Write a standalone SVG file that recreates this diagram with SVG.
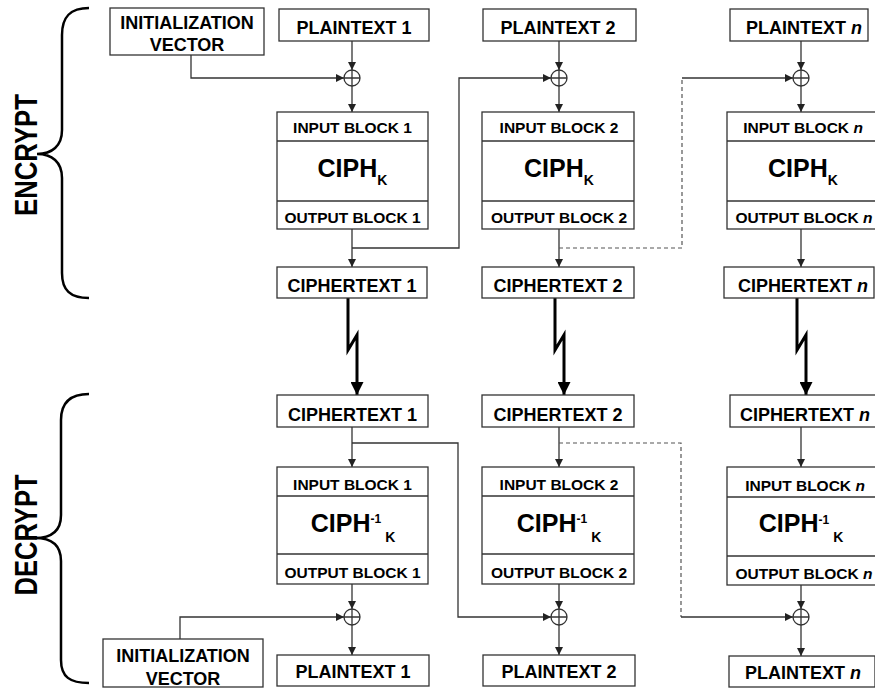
<svg xmlns="http://www.w3.org/2000/svg" width="875" height="690" viewBox="0 0 875 690">
<defs>
<style>
.box{fill:#fff;stroke:#333;stroke-width:1.3}
.div{stroke:#333;stroke-width:1.3}
.ln{fill:none;stroke:#333;stroke-width:1.3}
.ds{fill:none;stroke:#555;stroke-width:1.2;stroke-dasharray:4 3}
.thick{fill:none;stroke:#000;stroke-width:3}
.brace{fill:none;stroke:#000;stroke-width:2.5}
.xor{fill:#fff;stroke:#333;stroke-width:1.3}
.t{font-family:"Liberation Sans",Arial,sans-serif;font-weight:bold;fill:#000;text-anchor:middle}
.t18{font-size:18px}
.t15{font-size:15.5px}
.t24{font-size:25px}
.big{font-size:31px}
.i{font-style:italic}
</style>
<marker id="ar" viewBox="0 0 10 10" refX="10" refY="5" markerWidth="10" markerHeight="8" orient="auto" markerUnits="userSpaceOnUse"><path d="M0,0 L10,5 L0,10 z" fill="#222"/></marker>
<marker id="arb" viewBox="0 0 10 10" refX="10" refY="5" markerWidth="14" markerHeight="13" orient="auto" markerUnits="userSpaceOnUse"><path d="M0,0 L10,5 L0,10 z" fill="#000"/></marker>
<g id="xsym"><circle class="xor" cx="0" cy="0" r="8"/><path class="ln" d="M-8,0 H8 M0,-8 V8"/></g>
</defs>
<rect width="875" height="690" fill="#fff"/>

<g id="connectors">
<!-- encrypt -->
<path class="ln" d="M191,55 V78 H344" marker-end="url(#ar)"/>
<path class="ln" d="M352,41 V70" marker-end="url(#ar)"/>
<path class="ln" d="M352,86 V112" marker-end="url(#ar)"/>
<path class="ln" d="M352,229 V267" marker-end="url(#ar)"/>
<path class="ln" d="M352,248 H459 V78 H551" marker-end="url(#ar)"/>
<path class="ln" d="M559,41 V70" marker-end="url(#ar)"/>
<path class="ln" d="M559,86 V112" marker-end="url(#ar)"/>
<path class="ln" d="M559,229 V267" marker-end="url(#ar)"/>
<path class="ds" d="M559,248 H682 V78"/>
<path class="ln" d="M682,78 H793" marker-end="url(#ar)"/>
<path class="ln" d="M801,41 V70" marker-end="url(#ar)"/>
<path class="ln" d="M801,86 V112" marker-end="url(#ar)"/>
<path class="ln" d="M801,229 V267" marker-end="url(#ar)"/>
<!-- transmission -->
<path class="thick" d="M348,298 V350 L357,335 V395" marker-end="url(#arb)"/>
<path class="thick" d="M555,298 V350 L564,335 V395" marker-end="url(#arb)"/>
<path class="thick" d="M797,298 V350 L806,335 V395" marker-end="url(#arb)"/>
<!-- decrypt -->
<path class="ln" d="M352,427 V467" marker-end="url(#ar)"/>
<path class="ln" d="M352,443 H458 V617 H551" marker-end="url(#ar)"/>
<path class="ln" d="M352,584 V609" marker-end="url(#ar)"/>
<path class="ln" d="M352,625 V655" marker-end="url(#ar)"/>
<path class="ln" d="M180,639 V617 H344" marker-end="url(#ar)"/>
<path class="ln" d="M559,427 V467" marker-end="url(#ar)"/>
<path class="ln" d="M559,584 V609" marker-end="url(#ar)"/>
<path class="ln" d="M559,625 V655" marker-end="url(#ar)"/>
<path class="ds" d="M559,443 H681 V617"/>
<path class="ln" d="M681,617 H793" marker-end="url(#ar)"/>
<path class="ln" d="M801,427 V467" marker-end="url(#ar)"/>
<path class="ln" d="M801,585 V609" marker-end="url(#ar)"/>
<path class="ln" d="M801,625 V656" marker-end="url(#ar)"/>
</g>

<g id="encrypt-brace">
<path class="brace" d="M89,8 C70,8 62,17 62,35 L62,130 C62,146 52,154 37,154 C52,154 62,162 62,178 L62,273 C62,290 70,298 89,298"/>
<text class="t big" transform="translate(37,155) rotate(-90)" x="0" y="0" textLength="122" lengthAdjust="spacingAndGlyphs">ENCRYPT</text>
</g>
<g id="decrypt-brace">
<path class="brace" d="M89,394 C70,394 61,403 61,420 L61,515 C61,531 51,538 35,538 C51,538 61,545 61,561 L61,660 C61,677 70,683 89,683"/>
<text class="t big" transform="translate(37,535) rotate(-90)" x="0" y="0" textLength="121" lengthAdjust="spacingAndGlyphs">DECRYPT</text>
</g>

<!-- encrypt column 1 -->
<g id="iv-enc"><rect class="box" x="110" y="8" width="154" height="47"/>
<text class="t t18" x="187" y="29.3">INITIALIZATION</text><text class="t t18" x="187" y="50.7">VECTOR</text></g>
<g id="pt1-enc"><rect class="box" x="279" y="9" width="150" height="32"/><text class="t t18" x="354" y="34">PLAINTEXT 1</text></g>
<g id="xor1-enc"><use href="#xsym" x="352" y="78"/></g>
<g id="blk1-enc"><rect class="box" x="277" y="112" width="151" height="117"/>
<line class="div" x1="277" y1="141" x2="428" y2="141"/><line class="div" x1="277" y1="201" x2="428" y2="201"/>
<text class="t t15" x="352.5" y="133.3">INPUT BLOCK 1</text>
<text class="t t24" x="352.5" y="176.7">CIPH<tspan font-size="14" dy="8.3">K</tspan></text>
<text class="t t15" x="352.5" y="222.7">OUTPUT BLOCK 1</text></g>
<g id="ct1-enc"><rect class="box" x="277" y="267" width="150" height="31"/><text class="t t18" x="352" y="292">CIPHERTEXT 1</text></g>

<!-- encrypt column 2 -->
<g id="pt2-enc"><rect class="box" x="483" y="9" width="153" height="32"/><text class="t t18" x="558" y="34">PLAINTEXT 2</text></g>
<g id="xor2-enc"><use href="#xsym" x="559" y="78"/></g>
<g id="blk2-enc"><rect class="box" x="482" y="112" width="152" height="117"/>
<line class="div" x1="482" y1="141" x2="634" y2="141"/><line class="div" x1="482" y1="201" x2="634" y2="201"/>
<text class="t t15" x="559" y="133.3">INPUT BLOCK 2</text>
<text class="t t24" x="559" y="176.7">CIPH<tspan font-size="14" dy="8.3">K</tspan></text>
<text class="t t15" x="559" y="222.7">OUTPUT BLOCK 2</text></g>
<g id="ct2-enc"><rect class="box" x="482" y="267" width="152" height="31"/><text class="t t18" x="558" y="292">CIPHERTEXT 2</text></g>

<!-- encrypt column n -->
<g id="ptn-enc"><rect class="box" x="730" y="9" width="138" height="32"/><text class="t t18" x="804" y="34">PLAINTEXT <tspan class="i">n</tspan></text></g>
<g id="xorn-enc"><use href="#xsym" x="801" y="78"/></g>
<g id="blkn-enc"><rect class="box" x="727" y="112" width="152" height="117"/>
<line class="div" x1="727" y1="141" x2="879" y2="141"/><line class="div" x1="727" y1="201" x2="879" y2="201"/>
<text class="t t15" x="803" y="133.3">INPUT BLOCK <tspan class="i">n</tspan></text>
<text class="t t24" x="803" y="176.7">CIPH<tspan font-size="14" dy="8.3">K</tspan></text>
<text class="t t15" x="804" y="222.7">OUTPUT BLOCK <tspan class="i">n</tspan></text></g>
<g id="ctn-enc"><rect class="box" x="724" y="267" width="150" height="31"/><text class="t t18" x="803" y="292">CIPHERTEXT <tspan class="i">n</tspan></text></g>

<!-- decrypt column 1 -->
<g id="ct1-dec"><rect class="box" x="277" y="395" width="151" height="32"/><text class="t t18" x="352.5" y="420.7">CIPHERTEXT 1</text></g>
<g id="blk1-dec"><rect class="box" x="277" y="467" width="151" height="117"/>
<line class="div" x1="277" y1="496" x2="428" y2="496"/><line class="div" x1="277" y1="554" x2="428" y2="554"/>
<text class="t t15" x="352.5" y="490">INPUT BLOCK 1</text>
<text class="t t24" x="353" y="531.7">CIPH<tspan font-size="12" dy="-8.4">-1</tspan><tspan font-size="14" dx="4" dy="18.4">K</tspan></text>
<text class="t t15" x="352.5" y="578.3">OUTPUT BLOCK 1</text></g>
<g id="xor1-dec"><use href="#xsym" x="352" y="617"/></g>
<g id="iv-dec"><rect class="box" x="103" y="639" width="160" height="48"/>
<text class="t t18" x="183" y="661.7">INITIALIZATION</text><text class="t t18" x="183" y="684.5">VECTOR</text></g>
<g id="pt1-dec"><rect class="box" x="277" y="655" width="152" height="31"/><text class="t t18" x="353" y="678.3">PLAINTEXT 1</text></g>

<!-- decrypt column 2 -->
<g id="ct2-dec"><rect class="box" x="482" y="395" width="152" height="32"/><text class="t t18" x="558" y="420.7">CIPHERTEXT 2</text></g>
<g id="blk2-dec"><rect class="box" x="482" y="467" width="152" height="117"/>
<line class="div" x1="482" y1="496" x2="634" y2="496"/><line class="div" x1="482" y1="554" x2="634" y2="554"/>
<text class="t t15" x="559" y="490">INPUT BLOCK 2</text>
<text class="t t24" x="559" y="531.7">CIPH<tspan font-size="12" dy="-8.4">-1</tspan><tspan font-size="14" dx="4" dy="18.4">K</tspan></text>
<text class="t t15" x="559" y="578.3">OUTPUT BLOCK 2</text></g>
<g id="xor2-dec"><use href="#xsym" x="559" y="617"/></g>
<g id="pt2-dec"><rect class="box" x="483" y="655" width="152" height="31"/><text class="t t18" x="559" y="678.3">PLAINTEXT 2</text></g>

<!-- decrypt column n -->
<g id="ctn-dec"><rect class="box" x="730" y="395" width="152" height="32"/><text class="t t18" x="805" y="420.7">CIPHERTEXT <tspan class="i">n</tspan></text></g>
<g id="blkn-dec"><rect class="box" x="727" y="467" width="152" height="118"/>
<line class="div" x1="727" y1="497" x2="879" y2="497"/><line class="div" x1="727" y1="556" x2="879" y2="556"/>
<text class="t t15" x="805" y="490.5">INPUT BLOCK <tspan class="i">n</tspan></text>
<text class="t t24" x="801" y="532">CIPH<tspan font-size="12" dy="-8.4">-1</tspan><tspan font-size="14" dx="4" dy="18.4">K</tspan></text>
<text class="t t15" x="804" y="579">OUTPUT BLOCK <tspan class="i">n</tspan></text></g>
<g id="xorn-dec"><use href="#xsym" x="801" y="617"/></g>
<g id="ptn-dec"><rect class="box" x="729" y="656" width="146" height="31"/><text class="t t18" x="803" y="679">PLAINTEXT <tspan class="i">n</tspan></text></g>
</svg>
